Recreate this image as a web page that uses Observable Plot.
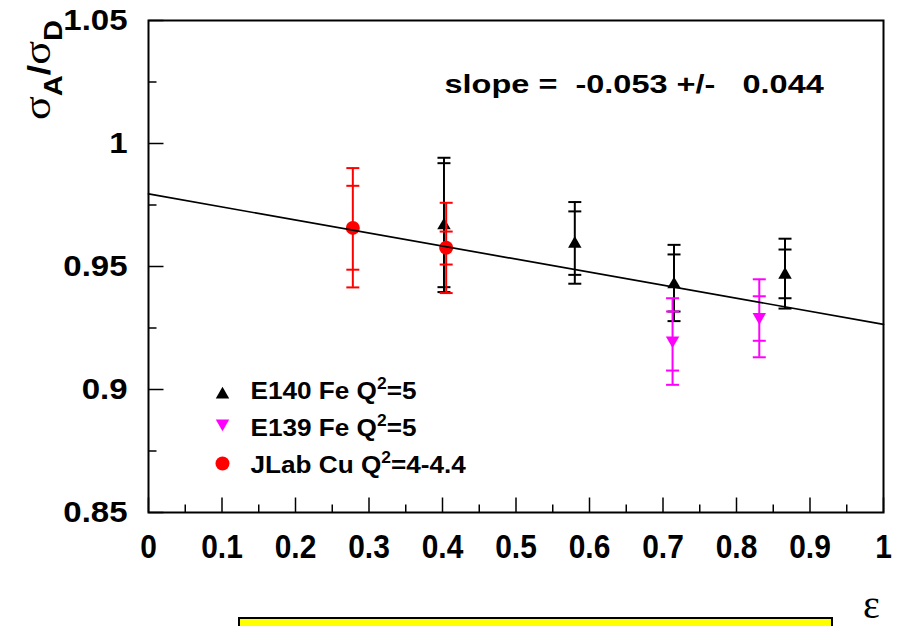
<!DOCTYPE html>
<html><head><meta charset="utf-8">
<script src="https://cdn.jsdelivr.net/npm/d3@7"></script>
<script src="https://cdn.jsdelivr.net/npm/@observablehq/plot@0.6"></script>
<style>
body{margin:0;background:#fff;width:900px;height:626px;overflow:hidden;position:relative;font-family:"Liberation Sans",Arial,sans-serif;}
#chart svg text{white-space:pre;}
#box{position:absolute;left:238px;top:617px;width:591px;height:20px;background:#ffff00;border:2px solid #000;}
</style></head><body>
<div id="chart"></div>
<div id="box"></div>
<script>
// ---- data ----
// E140 Fe Q^2=5 (black up triangles)
const e140X      = [0.402, 0.580, 0.715, 0.866];
const e140Y      = [0.9667, 0.9592, 0.9427, 0.9466];
const e140StatLo = [0.9416, 0.9466, 0.9317, 0.9371];
const e140StatHi = [0.9920, 0.9724, 0.9549, 0.9569];
const e140TotLo  = [0.9396, 0.9430, 0.9278, 0.9329];
const e140TotHi  = [0.9942, 0.9762, 0.9588, 0.9613];
// E139 Fe Q^2=5 (magenta down triangles)
const e139X      = [0.713, 0.831];
const e139Y      = [0.9200, 0.9295];
const e139StatLo = [0.9077, 0.9198];
const e139StatHi = [0.9317, 0.9379];
const e139TotLo  = [0.9019, 0.9131];
const e139TotHi  = [0.9371, 0.9448];
// JLab Cu Q^2=4-4.4 (red circles)
const jlabX      = [0.278, 0.405];
const jlabY      = [0.9657, 0.9576];
const jlabStatLo = [0.9487, 0.9508];
const jlabStatHi = [0.9828, 0.9642];
const jlabTotLo  = [0.9415, 0.9392];
const jlabTotHi  = [0.9900, 0.9759];
// linear fit
const fitX = [0, 1];
const fitY = [0.9795, 0.9265];
const slopeText = "slope =  -0.053 +/-   0.044";
// legend (text before the superscript, superscript, text after)
const legendLabels = ["E140 Fe Q\u00b2=5", "E139 Fe Q\u00b2=5", "JLab Cu Q\u00b2=4-4.4"];
// axes
const xTicks = [0, 0.1, 0.2, 0.3, 0.4, 0.5, 0.6, 0.7, 0.8, 0.9, 1];
const xTickLabels = ["0", "0.1", "0.2", "0.3", "0.4", "0.5", "0.6", "0.7", "0.8", "0.9", "1"];
const xMinorTicks = [0.05, 0.15, 0.25, 0.35, 0.45, 0.55, 0.65, 0.75, 0.85, 0.95];
const yTicks = [0.85, 0.9, 0.95, 1, 1.05];
const yTickLabels = ["0.85", "0.9", "0.95", "1", "1.05"];
const yMinorTicks = [0.875, 0.925, 0.975, 1.025];
const xTitle = "\u03b5";

// ---- build ----
const sq3 = Math.sqrt(3);
const downTriangle = {draw(ctx, size) {
  const y = Math.sqrt(size / (sq3 * 3));
  ctx.moveTo(0, 2 * y); ctx.lineTo(sq3 * y, -y); ctx.lineTo(-sq3 * y, -y); ctx.closePath();
}};
const capSymbol = {draw(ctx) { ctx.moveTo(-6.5, 0); ctx.lineTo(6.5, 0); }};
const hTick = len => ({draw(ctx) { ctx.moveTo(0, 0); ctx.lineTo(len, 0); }});
const vTick = len => ({draw(ctx) { ctx.moveTo(0, 0); ctx.lineTo(0, -len); }});

function rows(X, Y, sLo, sHi, tLo, tHi) {
  return X.map((x, i) => ({x, y: Y[i], sLo: sLo[i], sHi: sHi[i], tLo: tLo[i], tHi: tHi[i]}));
}
const series = [
  {data: rows(e140X, e140Y, e140StatLo, e140StatHi, e140TotLo, e140TotHi), color: "#000000", symbol: "triangle", r: 5},
  {data: rows(e139X, e139Y, e139StatLo, e139StatHi, e139TotLo, e139TotHi), color: "#ff00ff", symbol: downTriangle, r: 5},
  {data: rows(jlabX, jlabY, jlabStatLo, jlabStatHi, jlabTotLo, jlabTotHi), color: "#ff0000", symbol: "circle", r: 7}
];

const marks = [];
// inward ticks
marks.push(Plot.dot(yTicks, {y: d => d, frameAnchor: "left", symbol: hTick(15), r: 1, stroke: "black", strokeWidth: 1.5, fill: "none"}));
marks.push(Plot.dot(yMinorTicks, {y: d => d, frameAnchor: "left", symbol: hTick(8), r: 1, stroke: "black", strokeWidth: 1.5, fill: "none"}));
marks.push(Plot.dot(xTicks, {x: d => d, frameAnchor: "bottom", symbol: vTick(15), r: 1, stroke: "black", strokeWidth: 1.5, fill: "none"}));
marks.push(Plot.dot(xMinorTicks, {x: d => d, frameAnchor: "bottom", symbol: vTick(8), r: 1, stroke: "black", strokeWidth: 1.5, fill: "none"}));
marks.push(Plot.frame({stroke: "black", strokeWidth: 2}));
marks.push(Plot.axisX({ticks: xTicks, tickFormat: d => xTickLabels[xTicks.indexOf(d)], tickSize: 0, tickPadding: 21, fontSize: 34, fontWeight: "bold", fontFamily: "Liberation Sans", label: null}));
marks.push(Plot.axisY({ticks: yTicks, tickFormat: d => yTickLabels[yTicks.indexOf(d)], tickSize: 0, tickPadding: 21, fontSize: 30, fontWeight: "bold", fontFamily: "Liberation Sans", label: null}));

for (const s of series) {
  marks.push(Plot.ruleX(s.data, {x: "x", y1: "tLo", y2: "tHi", stroke: s.color, strokeWidth: 2}));
  for (const k of ["sLo", "sHi", "tLo", "tHi"]) {
    marks.push(Plot.dot(s.data, {x: "x", y: k, symbol: capSymbol, r: 1, stroke: s.color, strokeWidth: 2, fill: "none"}));
  }
  marks.push(Plot.dot(s.data, {x: "x", y: "y", symbol: s.symbol, r: s.r, fill: s.color, stroke: "none"}));
}
marks.push(Plot.line(fitX.map((x, i) => ({x, y: fitY[i]})), {x: "x", y: "y", stroke: "black", strokeWidth: 1.7}));

// slope annotation
marks.push(Plot.text([slopeText], {text: d => d, frameAnchor: "top-left", dx: 296, dy: 72, lineAnchor: "bottom", textAnchor: "start", fontSize: 25, fontWeight: "bold", fontFamily: "Liberation Sans", fill: "black"}));

// legend
const legendMarkerDy = [374, 403, 443];
const legendTextDy = [378, 415, 452];
series.forEach((s, i) => {
  marks.push(Plot.dot([legendLabels[i]], {frameAnchor: "top-left", dx: 74, dy: legendMarkerDy[i], symbol: s.symbol, r: s.r, fill: s.color, stroke: "none"}));
  marks.push(Plot.text([legendLabels[i]], {text: d => d, frameAnchor: "top-left", dx: 102, dy: legendTextDy[i], lineAnchor: "bottom", textAnchor: "start", fontSize: 24, fontWeight: "bold", fontFamily: "Liberation Sans", fill: "black"}));
});

// x title
marks.push(Plot.text([xTitle], {text: d => d, frameAnchor: "bottom-right", dx: -12, dy: 105, lineAnchor: "bottom", textAnchor: "middle", fontSize: 40, fontFamily: "Liberation Serif", fill: "black"}));

const svg = Plot.plot({
  width: 900, height: 626,
  marginLeft: 148, marginRight: 17, marginTop: 20, marginBottom: 114,
  x: {domain: [0, 1]},
  y: {domain: [0.85, 1.05]},
  style: {fontFamily: "Liberation Sans", color: "black", background: "white", overflow: "visible"},
  marks
});
document.getElementById("chart").appendChild(svg);

// horizontal stretching to mimic the original raster rendering
function stretch(sel, s) {
  sel.each(function () {
    const el = d3.select(this);
    const t = el.attr("transform") || "";
    const xa = el.attr("x");
    let pre = "";
    if (xa != null && !/em$/.test(xa) && !isNaN(+xa)) { pre = ` translate(${+xa},0)`; el.attr("x", null); }
    el.attr("transform", `${t}${pre} scale(${s},1)`);
  });
}
const root = d3.select(svg);
stretch(root.selectAll('g[aria-label="x-axis tick label"] text'), 0.88);
stretch(root.selectAll('g[aria-label="y-axis tick label"] text'), 1.1);
stretch(root.selectAll("text").filter(function () { return this.textContent === slopeText; }), 1.3);
const legendTexts = root.selectAll("text").filter(function () { return legendLabels.includes(this.textContent); });
stretch(legendTexts, 1.09);
// render the superscript 2 as a raised, larger digit like the original
legendTexts.each(function () {
  const el = d3.select(this);
  const [pre, post] = this.textContent.split("\u00b2");
  el.text(null);
  el.append("tspan").text(pre);
  el.append("tspan").attr("font-size", 16).attr("dy", -10).text("2");
  el.append("tspan").attr("dy", 10).text(post);
});

// y title  sigma_A / sigma_D
const yt = root.append("text")
  .attr("transform", "translate(50,120) rotate(-90)")
  .attr("text-anchor", "start")
  .attr("textLength", 100).attr("lengthAdjust", "spacingAndGlyphs")
  .attr("fill", "black");
yt.append("tspan").attr("font-family", "Liberation Serif").attr("font-size", 38).text("\u03c3");
yt.append("tspan").attr("font-family", "Liberation Sans").attr("font-weight", "bold").attr("font-size", 25).attr("dy", 12).text("A");
yt.append("tspan").attr("font-family", "Liberation Sans").attr("font-weight", "bold").attr("font-size", 32).attr("dy", -12).text("/");
yt.append("tspan").attr("font-family", "Liberation Serif").attr("font-size", 38).text("\u03c3");
yt.append("tspan").attr("font-family", "Liberation Sans").attr("font-weight", "bold").attr("font-size", 25).attr("dy", 12).text("D");
</script>
</body></html>
